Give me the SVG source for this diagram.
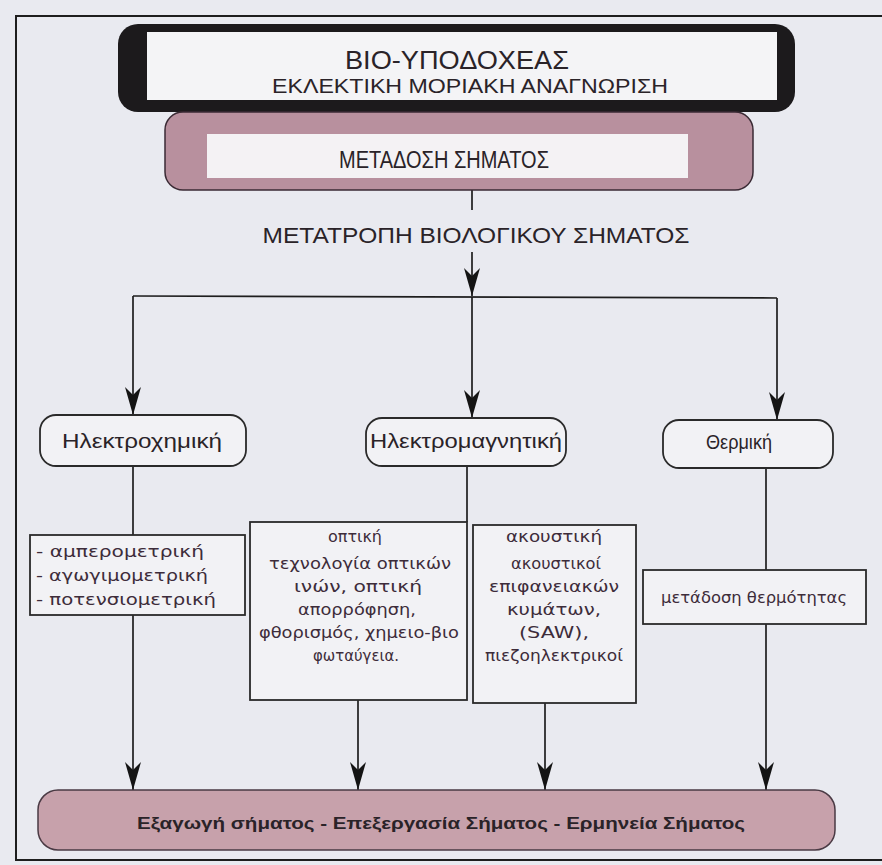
<svg xmlns="http://www.w3.org/2000/svg" width="882" height="865" viewBox="0 0 882 865">
<defs>
<style>
.t{font-family:"Liberation Sans",Arial,sans-serif;fill:#2a2328}
.s{font-family:"DejaVu Sans","Liberation Sans",sans-serif;fill:#3d2c3a;font-size:16px}
.ln{stroke:#1e1e1e;stroke-width:1.7;fill:none}
.nb{fill:#f2f2f5;stroke:#2a2a2a;stroke-width:1.8}
.rb{fill:#f2f2f5;stroke:#2a2a2a;stroke-width:1.8}
</style>
<marker id="ah" viewBox="-30 -10 31 20" refX="0" refY="0" markerWidth="31" markerHeight="20" markerUnits="userSpaceOnUse" orient="auto">
<path d="M0,0 L-28,-8 L-20,0 L-28,8 Z" fill="#141414"/>
</marker>
</defs>
<rect width="882" height="865" fill="#e9eaf0"/>
<rect x="16" y="16" width="890" height="844" fill="none" stroke="#1e1e1e" stroke-width="2"/>

<g id="connectors">
<path class="ln" d="M472,190 V210"/>
<path class="ln" d="M472,252 V296" marker-end="url(#ah)"/>
<path class="ln" d="M133,296 L777,298"/>
<path class="ln" d="M133,296 V415" marker-end="url(#ah)"/>
<path class="ln" d="M472,297 V418" marker-end="url(#ah)"/>
<path class="ln" d="M777,298 V420" marker-end="url(#ah)"/>
<path class="ln" d="M133,466 V535"/>
<path class="ln" d="M467,466 V522"/>
<path class="ln" d="M766,468 V570"/>
<path class="ln" d="M133,615 V790" marker-end="url(#ah)"/>
<path class="ln" d="M358,700 V790" marker-end="url(#ah)"/>
<path class="ln" d="M545,703 V790" marker-end="url(#ah)"/>
<path class="ln" d="M766,624 V790" marker-end="url(#ah)"/>
</g>

<g id="bio-ypodoxeas">
<rect x="118" y="24" width="677" height="88" rx="20" fill="#1c1a1c"/>
<rect x="147" y="32" width="630" height="68" fill="#f4f4f6"/>
<text class="t" x="457" y="69" font-size="25" text-anchor="middle" textLength="224" lengthAdjust="spacingAndGlyphs">ΒΙΟ-ΥΠΟΔΟΧΕΑΣ</text>
<text class="t" x="470" y="93" font-size="21" text-anchor="middle" textLength="396" lengthAdjust="spacingAndGlyphs">ΕΚΛΕΚΤΙΚΗ ΜΟΡΙΑΚΗ ΑΝΑΓΝΩΡΙΣΗ</text>
</g>

<g id="metadosi">
<rect x="165" y="112" width="588" height="78" rx="18" fill="#b8909e" stroke="#3a2a34" stroke-width="1.5"/>
<rect x="207" y="134" width="481" height="44" fill="#f4f2f4"/>
<text class="t" x="444" y="168" font-size="23" text-anchor="middle" textLength="210" lengthAdjust="spacingAndGlyphs">ΜΕΤΑΔΟΣΗ ΣΗΜΑΤΟΣ</text>
</g>

<g id="metatropi">
<text class="t" x="476" y="243" font-size="22" text-anchor="middle" textLength="427" lengthAdjust="spacingAndGlyphs">ΜΕΤΑΤΡΟΠΗ ΒΙΟΛΟΓΙΚΟΥ ΣΗΜΑΤΟΣ</text>
</g>

<g id="ilektroximiki">
<rect class="nb" x="40" y="415" width="206" height="51" rx="16"/>
<text class="t" x="142" y="448" font-size="20" text-anchor="middle" textLength="160" lengthAdjust="spacingAndGlyphs">Ηλεκτροχημική</text>
</g>

<g id="ilektromagnitiki">
<rect class="nb" x="366" y="418" width="200" height="48" rx="16"/>
<text class="t" x="466" y="448" font-size="20" text-anchor="middle" textLength="192" lengthAdjust="spacingAndGlyphs">Ηλεκτρομαγνητική</text>
</g>

<g id="thermiki">
<rect class="nb" x="663" y="420" width="170" height="48" rx="16"/>
<text class="t" x="739" y="449" font-size="20" text-anchor="middle" textLength="66" lengthAdjust="spacingAndGlyphs">Θερμική</text>
</g>

<g id="ilektroximiki-list">
<rect class="rb" x="30" y="535" width="215" height="80"/>
<text class="s" x="36" y="557" textLength="168" lengthAdjust="spacingAndGlyphs">- αμπερομετρική</text>
<text class="s" x="36" y="581" textLength="172" lengthAdjust="spacingAndGlyphs">- αγωγιμομετρική</text>
<text class="s" x="36" y="605" textLength="180" lengthAdjust="spacingAndGlyphs">- ποτενσιομετρική</text>
</g>

<g id="optiki">
<rect class="rb" x="250" y="522" width="217" height="178"/>
<text class="s" x="355" y="542" text-anchor="middle" textLength="54" lengthAdjust="spacingAndGlyphs">οπτική</text>
<text class="s" x="360" y="569" text-anchor="middle" textLength="182" lengthAdjust="spacingAndGlyphs">τεχνολογία οπτικών</text>
<text class="s" x="358" y="592" text-anchor="middle" textLength="128" lengthAdjust="spacingAndGlyphs">ινών, οπτική</text>
<text class="s" x="357" y="615" text-anchor="middle" textLength="118" lengthAdjust="spacingAndGlyphs">απορρόφηση,</text>
<text class="s" x="359" y="638" text-anchor="middle" textLength="200" lengthAdjust="spacingAndGlyphs">φθορισμός, χημειο-βιο</text>
<text class="s" x="356" y="661" text-anchor="middle" textLength="86" lengthAdjust="spacingAndGlyphs">φωταύγεια.</text>
</g>

<g id="akoustiki">
<rect class="rb" x="473" y="525" width="163" height="178"/>
<text class="s" x="554" y="542" text-anchor="middle" textLength="96" lengthAdjust="spacingAndGlyphs">ακουστική</text>
<text class="s" x="556" y="569" text-anchor="middle" textLength="90" lengthAdjust="spacingAndGlyphs">ακουστικοί</text>
<text class="s" x="554" y="592" text-anchor="middle" textLength="130" lengthAdjust="spacingAndGlyphs">επιφανειακών</text>
<text class="s" x="554" y="615" text-anchor="middle" textLength="94" lengthAdjust="spacingAndGlyphs">κυμάτων,</text>
<text class="s" x="554" y="638" text-anchor="middle" textLength="70" lengthAdjust="spacingAndGlyphs">(SAW),</text>
<text class="s" x="554" y="661" text-anchor="middle" textLength="138" lengthAdjust="spacingAndGlyphs">πιεζοηλεκτρικοί</text>
</g>

<g id="metadosi-thermotitas">
<rect class="rb" x="643" y="570" width="223" height="54"/>
<text class="s" x="754" y="603" text-anchor="middle" textLength="186" lengthAdjust="spacingAndGlyphs">μετάδοση θερμότητας</text>
</g>

<g id="exagogi">
<rect x="38" y="790" width="797" height="60" rx="20" fill="#c7a1ab" stroke="#4a3a44" stroke-width="1.5"/>
<text class="t" x="441" y="829" font-size="17" font-weight="bold" text-anchor="middle" textLength="608" lengthAdjust="spacingAndGlyphs" fill="#2a2228">Εξαγωγή σήματος - Επεξεργασία Σήματος - Ερμηνεία Σήματος</text>
</g>
</svg>
